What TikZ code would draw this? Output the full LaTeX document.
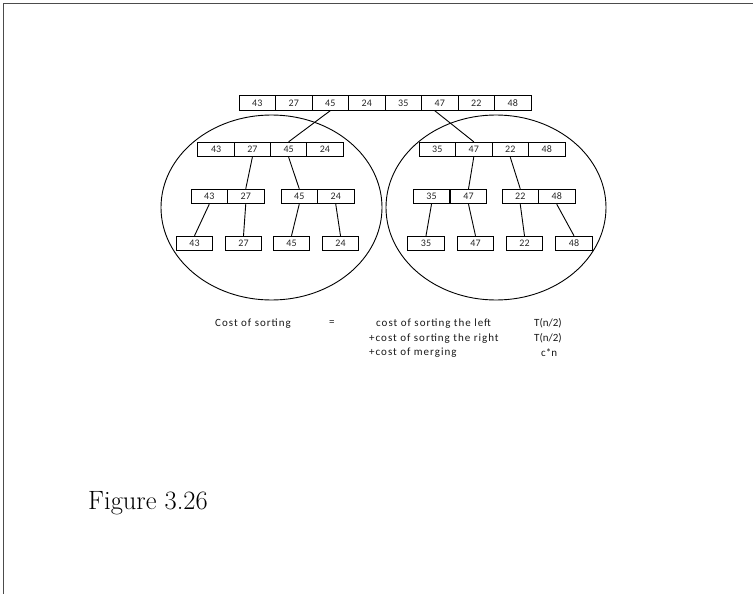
\documentclass[tikz,border=0pt]{standalone}
\usepackage{fontspec}
\setmainfont{Latin Modern Roman}
\newfontfamily\calfont{Carlito}
\newfontfamily\calwide{Carlito}[LetterSpace=9]
\begin{document}
\begin{tikzpicture}[x=1pt,y=-1pt,
  cell/.style={draw=black,line width=0.9pt,minimum width=36.5pt,minimum height=14.5pt,inner sep=0pt,font=\calfont\fontsize{10}{10}\selectfont,text=black!85},
  link/.style={draw=black,line width=0.9pt},
  oval/.style={draw=black,line width=0.9pt},
  lbl/.style={inner sep=0pt,font=\calwide\fontsize{11}{12}\selectfont,text=black!90},
  lbln/.style={inner sep=0pt,font=\calfont\fontsize{11}{12}\selectfont,text=black!90}]
\useasboundingbox (0,0) rectangle (753,594);
\draw[line width=1.8pt,black!70] (3.5,594) -- (3.5,3.5) -- (753,3.5);
% ellipses
\draw[oval] (271.5,207.5) ellipse [x radius=110.5, y radius=92.5];
\draw[oval] (496,207.5) ellipse [x radius=110, y radius=92.5];
% top row
\foreach \v [count=\i] in {43,27,45,24,35,47,22,48}
  \node[cell] (t\i) at ({239+36.5*(\i-0.5)},103) {\v};
% level 2
\foreach \v [count=\i] in {43,27,45,24}
  \node[cell] (a\i) at ({198+36.25*(\i-0.5)},149.5) {\v};
\foreach \v [count=\i] in {35,47,22,48}
  \node[cell] (b\i) at ({419+36.5*(\i-0.5)},149.5) {\v};
% level 3
\node[cell] (c1) at (209.25,196.5) {43};
\node[cell] (c2) at (245.75,196.5) {27};
\node[cell] (c3) at (299.25,196.5) {45};
\node[cell] (c4) at (335.75,196.5) {24};
\node[cell] (d1) at (431.5,196.5) {35};
\node[cell] (d2) at (468.5,196.5) {47};
\node[cell] (d3) at (520.25,196.5) {22};
\node[cell] (d4) at (556.75,196.5) {48};
% level 4
\node[cell] (e1) at (194.5,243.5) {43};
\node[cell] (e2) at (243.5,243.5) {27};
\node[cell] (e3) at (291.5,243.5) {45};
\node[cell] (e4) at (340.5,243.5) {24};
\node[cell] (f1) at (426,243.5) {35};
\node[cell] (f2) at (475.5,243.5) {47};
\node[cell] (f3) at (524.5,243.5) {22};
\node[cell] (f4) at (574,243.5) {48};
% connectors
\draw[link] (t3.south) -- (a3.north);
\draw[link] ([xshift=-5pt]t6.south) -- (b2.north);
\draw[link] (a2.south) -- (c2.north);
\draw[link] (a3.south) -- (c3.north);
\draw[link] (b2.south) -- (d2.north);
\draw[link] (b3.south) -- (d3.north);
\draw[link] (c1.south) -- (e1.north);
\draw[link] (c2.south) -- (e2.north);
\draw[link] (c3.south) -- (e3.north);
\draw[link] (c4.south) -- (e4.north);
\draw[link] (d1.south) -- (f1.north);
\draw[link] (d2.south) -- (f2.north);
\draw[link] (d3.south) -- (f3.north);
\draw[link] (d4.south) -- (f4.north);
% cost text
\node[lbl,anchor=west] (k1) at (215,323.5) {Cost of sorting};
\node[lbln,anchor=west] (k2) at (329,323.5) {=};
\node[lbl,anchor=west] (k3) at (376,323.5) {cost of sorting the left};
\node[lbl,anchor=west] (k4) at (369,338.5) {+cost of sorting the right};
\node[lbl,anchor=west] (k5) at (369,353) {+cost of merging};
\node[lbln,anchor=west] (k6) at (534,323.5) {T(n/2)};
\node[lbln,anchor=west] (k7) at (534,338.5) {T(n/2)};
\node[lbln,anchor=west] (k8) at (541,353) {c*n};
% caption
\node[anchor=west,inner sep=0pt,font=\fontsize{26.5}{28}\selectfont] (fig) at (88,503) {Figure 3.26};
\end{tikzpicture}
\end{document}
